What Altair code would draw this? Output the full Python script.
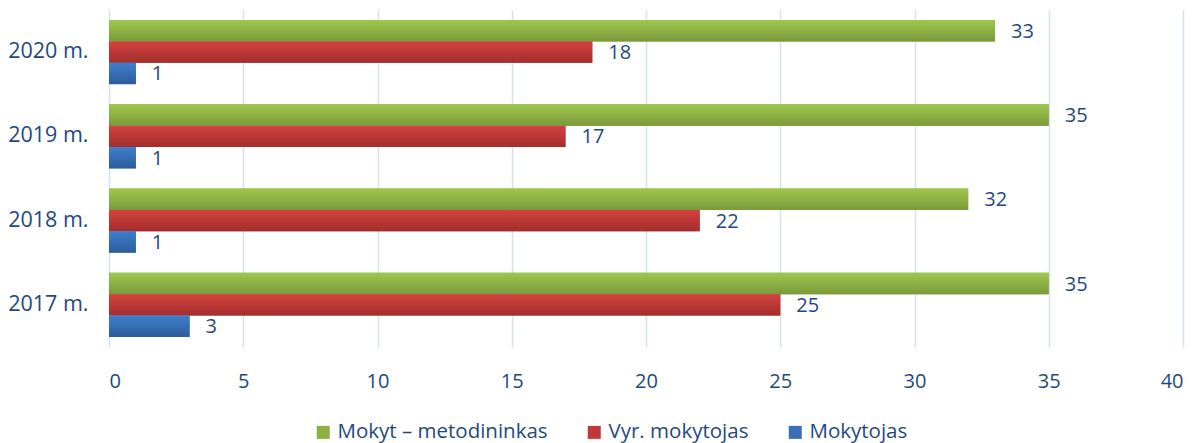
import altair as alt
import pandas as pd

years = ["2020 m.", "2019 m.", "2018 m.", "2017 m."]
series = ["Mokyt – metodininkas", "Vyr. mokytojas", "Mokytojas"]
metodininkas = [33, 35, 32, 35]
vyr_mokytojas = [18, 17, 22, 25]
mokytojas = [1, 1, 1, 3]
x_ticks = [0, 5, 10, 15, 20, 25, 30, 35, 40]

solid = ["#8db043", "#c0393a", "#3a6fb8"]
grad_stops = [("#a0c64c", "#7a9a3b"), ("#d4423f", "#a12e2d"), ("#3e7fce", "#2d5c9b")]

rows = []
for s, vals in zip(series, [metodininkas, vyr_mokytojas, mokytojas]):
    for y, v in zip(years, vals):
        rows.append({"year": y, "series": s, "value": v})
df = pd.DataFrame(rows)

FONT = "Open Sans"
TXT = "#1f497d"

base = alt.Chart(df).encode(
    x=alt.X("value:Q", scale=alt.Scale(domain=[0, 40], nice=False),
            axis=alt.Axis(values=x_ticks, title=None, grid=True, domain=False, ticks=False,
                          labelPadding=24, labelFontSize=20, labelFont=FONT, labelColor=TXT,
                          gridColor="#d6e1ef", gridWidth=1.5)),
    y=alt.Y("year:N", sort=years, scale=alt.Scale(paddingInner=0.24, paddingOuter=0.12),
            axis=alt.Axis(title=None, domain=False, ticks=False, labelPadding=21,
                          labelFontSize=21.5, labelFont=FONT, labelColor=TXT, labelLimit=200)),
    yOffset=alt.YOffset("series:N", sort=series,
                        scale=alt.Scale(domain=series, paddingInner=0, paddingOuter=0)),
)

bars = base.mark_bar().encode(
    color=alt.Color("series:N", sort=series,
                    scale=alt.Scale(domain=series, range=solid),
                    legend=alt.Legend(title=None, orient="none", direction="horizontal",
                                      legendX=204, legendY=412, padding=0,
                                      symbolType="square", symbolSize=169, symbolStrokeWidth=0,
                                      labelFont=FONT, labelFontSize=20.5, labelColor=TXT,
                                      labelLimit=400, labelOffset=4, columnPadding=36))
)

grad_layers = []
for s, (c1, c2) in zip(series, grad_stops):
    grad_layers.append(
        base.transform_filter(alt.datum.series == s).mark_bar(
            color=alt.Gradient(gradient="linear",
                               stops=[alt.GradientStop(color=c1, offset=0),
                                      alt.GradientStop(color=c2, offset=1)],
                               x1=0, x2=0, y1=0, y2=1)
        )
    )

labels = base.mark_text(align="left", baseline="middle", dx=16, dy=1, font=FONT,
                        fontSize=20, color=TXT).encode(text="value:Q")

chart = alt.layer(bars, *grad_layers, labels).properties(
    width=1074, height=337,
    padding={"left": 101, "top": 2, "right": 4, "bottom": 96},
    autosize=alt.AutoSizeParams(type="none"),
).configure_view(stroke=None)

chart.save("out.html", embed_options={"renderer": "svg", "actions": False})
